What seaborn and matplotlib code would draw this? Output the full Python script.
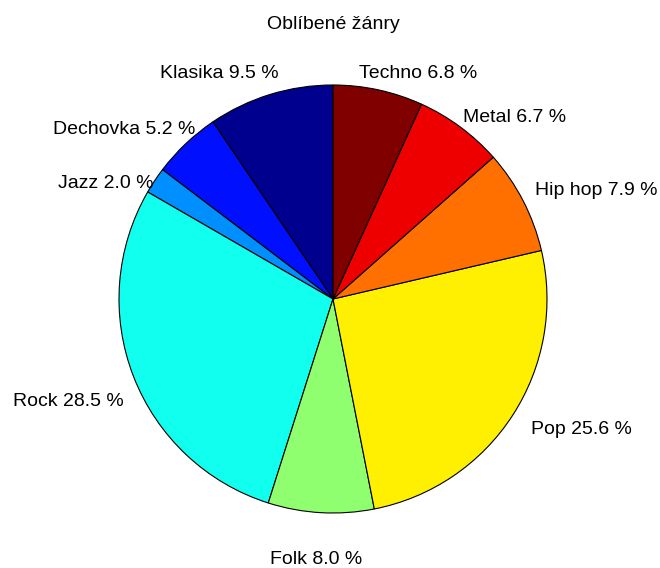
import matplotlib
matplotlib.use("Agg")
import matplotlib.pyplot as plt
import seaborn as sns

# ---- data ----
genres = ["Klasika", "Dechovka", "Jazz", "Rock", "Folk", "Pop", "Hip hop", "Metal", "Techno"]
shares = [9.5, 5.2, 2.0, 28.5, 8.0, 25.6, 7.9, 6.7, 6.8]
title = "Oblíbené žánry"

# ---- style ----
slice_colors = ["#00008F", "#0010FF", "#008FFF", "#10FFEF", "#8FFF70",
                "#FFEF00", "#FF7000", "#EF0000", "#800000"]
# label centres (in pie-radius units), as placed in the reference
label_x = [-0.533, -0.977, -1.061, -1.238, -0.079, 1.159, 1.229, 0.850, 0.397]
label_y = [1.052, 0.790, 0.542, -0.481, -1.219, -0.612, 0.505, 0.846, 1.052]

sns.set_style("white")
plt.rcParams["font.family"] = ["Liberation Sans", "DejaVu Sans"]

palette = sns.color_palette(slice_colors)

fig = plt.figure(figsize=(6.6, 5.68), dpi=100)
ax = fig.add_axes([0, 0, 1, 1])
ax.pie(shares, colors=palette, startangle=90, counterclock=True,
       wedgeprops=dict(edgecolor="black", linewidth=0.8))
ax.set_aspect("auto")
ax.set_xlim(-333 / 214, (660 - 333) / 214)
ax.set_ylim(-(568 - 299) / 214, 299 / 214)
ax.axis("off")

for name, val, lx, ly in zip(genres, shares, label_x, label_y):
    ax.text(lx, ly, f"{name} {val:.1f} %",
            ha="center", va="center", fontsize=14, color="black")

ax.text(0.0, 1.285, title, ha="center", va="center", fontsize=14, color="black")

fig.savefig("out.png", dpi=100, facecolor="white")
